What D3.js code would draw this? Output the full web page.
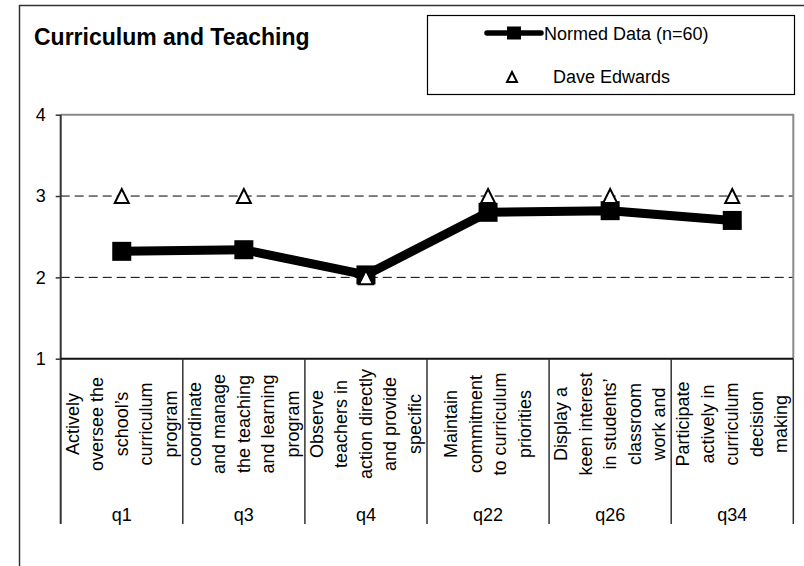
<!DOCTYPE html>
<html>
<head>
<meta charset="utf-8">
<script src="https://cdn.jsdelivr.net/npm/d3@7"></script>
<style>
  html, body { margin: 0; padding: 0; background: #fff; }
  svg { display: block; font-family: Arial, "Liberation Sans", sans-serif; }
</style>
</head>
<body>
<svg id="chart" width="804" height="566"></svg>
<script>
// ---- data ----
const categories = ["q1", "q3", "q4", "q22", "q26", "q34"];
const categoryText = [
  ["Actively", "oversee the", "school\u2019s", "curriculum", "program"],
  ["coordinate", "and manage", "the teaching", "and learning", "program"],
  ["Observe", "teachers in", "action directly", "and provide", "specific"],
  ["Maintain", "commitment", "to curriculum", "priorities"],
  ["Display a", "keen interest", "in students\u2019", "classroom", "work and"],
  ["Participate", "actively in", "curriculum", "decision", "making"]
];
const normedValues = [2.32, 2.34, 2.03, 2.80, 2.82, 2.70];
const daveValues = [3, 3, 2, 3, 3, 3];
const yTicks = [1, 2, 3, 4];
const gridValues = [2, 3];
const seriesNames = ["Normed Data (n=60)", "Dave Edwards"];
const title = "Curriculum and Teaching";

// ---- layout ----
const svg = d3.select("#chart");
const plotLeft = 60.7, plotRight = 793.3, plotTop = 114.7, plotBottom = 358.7;
const tableBottom = 524;

const x = d3.scaleBand().domain(categories).range([plotLeft, plotRight]).padding(0);
const y = d3.scaleLinear().domain([1, 4]).range([plotBottom, plotTop]);
const cx = d => x(d) + x.bandwidth() / 2;

// outer chart border
svg.append("rect")
  .attr("x", 19.5).attr("y", 5.5).attr("width", 820).attr("height", 600)
  .attr("fill", "none").attr("stroke", "#333").attr("stroke-width", 1.5);

// title
svg.append("text")
  .attr("x", 34).attr("y", 45)
  .attr("font-size", 23).attr("font-weight", "bold").attr("fill", "#000")
  .text(title);

// gridlines
svg.append("g").selectAll("line").data(gridValues).join("line")
  .attr("x1", plotLeft).attr("x2", plotRight)
  .attr("y1", d => y(d)).attr("y2", d => y(d))
  .attr("stroke", "#000").attr("stroke-width", 1)
  .attr("stroke-dasharray", "9,5");

// plot frame top / right (gray)
svg.append("path")
  .attr("d", `M${plotLeft},${y(4)}H${plotRight}V${y(1)}`)
  .attr("fill", "none").attr("stroke", "#8a8a8a").attr("stroke-width", 2);

// y axis
const yAxis = d3.axisLeft(y).tickValues(yTicks).tickSize(5).tickPadding(10)
  .tickFormat(d3.format("d"));
const yg = svg.append("g").attr("transform", `translate(${plotLeft},0)`).call(yAxis);
yg.select(".domain").remove();
yg.selectAll(".tick line").attr("stroke", "#333").attr("stroke-width", 1.5);
yg.selectAll(".tick text").attr("font-size", 18).attr("fill", "#000")
  .attr("font-family", "Arial, 'Liberation Sans', sans-serif");

// left axis line extending through label table
svg.append("line")
  .attr("x1", plotLeft).attr("x2", plotLeft)
  .attr("y1", y(4)).attr("y2", tableBottom)
  .attr("stroke", "#333").attr("stroke-width", 2);

// bottom axis
svg.append("line")
  .attr("x1", plotLeft).attr("x2", plotRight)
  .attr("y1", y(1)).attr("y2", y(1))
  .attr("stroke", "#111").attr("stroke-width", 2);

// category separators
const edges = categories.map(c => x(c)).slice(1).concat([plotRight]);
svg.append("g").selectAll("line").data(edges).join("line")
  .attr("x1", d => d).attr("x2", d => d)
  .attr("y1", y(1)).attr("y2", tableBottom)
  .attr("stroke", "#333").attr("stroke-width", 1.5);

// rotated category descriptions
const lineGap = 24.5, textCenterY = 424;
const descG = svg.append("g");
categories.forEach((c, i) => {
  const lines = categoryText[i];
  const n = lines.length;
  lines.forEach((t, j) => {
    const lx = cx(c) + (j - (n - 1) / 2) * lineGap;
    descG.append("text")
      .attr("transform", `translate(${lx},${textCenterY}) rotate(-90)`)
      .attr("text-anchor", "middle")
      .attr("dominant-baseline", "central")
      .attr("font-size", 18).attr("fill", "#000")
      .text(t);
  });
});

// category codes
svg.append("g").selectAll("text").data(categories).join("text")
  .attr("x", d => cx(d)).attr("y", 521)
  .attr("text-anchor", "middle").attr("font-size", 18).attr("fill", "#000")
  .text(d => d);

// normed line
const lineGen = d3.line().x((d, i) => cx(categories[i])).y(d => y(d));
svg.append("path").datum(normedValues)
  .attr("d", lineGen)
  .attr("fill", "none").attr("stroke", "#000").attr("stroke-width", 9)
  .attr("stroke-linejoin", "round");

const sq = 19;
svg.append("g").selectAll("rect").data(normedValues).join("rect")
  .attr("x", (d, i) => cx(categories[i]) - sq / 2)
  .attr("y", d => y(d) - sq / 2)
  .attr("width", sq).attr("height", sq)
  .attr("fill", "#000");

// Dave triangles
const tri = (px, py, h) => `M${px},${py - h}L${px + h},${py + h}L${px - h},${py + h}Z`;
svg.append("g").selectAll("path").data(daveValues).join("path")
  .attr("d", (d, i) => tri(cx(categories[i]), y(d), 7))
  .attr("fill", "#fff").attr("stroke", "#000").attr("stroke-width", 2);

// legend
const lg = svg.append("g");
lg.append("rect")
  .attr("x", 427.5).attr("y", 15.5).attr("width", 367).attr("height", 79)
  .attr("fill", "#fff").attr("stroke", "#000").attr("stroke-width", 1.2);
lg.append("line")
  .attr("x1", 487).attr("x2", 541).attr("y1", 33).attr("y2", 33)
  .attr("stroke", "#000").attr("stroke-width", 5.5).attr("stroke-linecap", "round");
lg.append("rect")
  .attr("x", 507).attr("y", 26.5).attr("width", 14).attr("height", 13).attr("fill", "#000");
lg.append("text").attr("x", 544).attr("y", 40)
  .attr("font-size", 18).attr("fill", "#000").text(seriesNames[0]);
lg.append("path").attr("d", tri(512, 77, 5))
  .attr("fill", "#fff").attr("stroke", "#000").attr("stroke-width", 2);
lg.append("text").attr("x", 553).attr("y", 83)
  .attr("font-size", 18).attr("fill", "#000").text(seriesNames[1]);
</script>
</body>
</html>
